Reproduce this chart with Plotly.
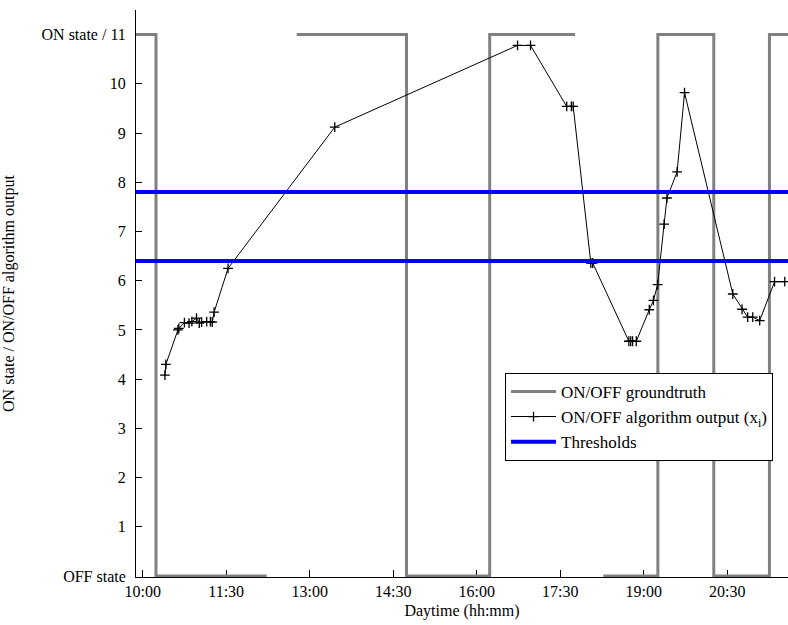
import plotly.graph_objects as go

DAY = "2000-01-01 "

# Ground truth ON/OFF state (step series; None = no data)
gt_time = ["09:50:00", "10:14:20", "10:14:20", "12:13:40", "12:30:00", "12:46:00",
           "14:44:20", "14:44:20", "16:14:00", "16:14:00", "17:46:00", "18:00:00",
           "18:16:25", "19:15:15", "19:15:15", "20:15:30", "20:15:30", "21:15:30",
           "21:15:30", "21:45:00"]
gt_state = [11, 11, 0, 0, None, 11, 11, 0, 0, 11, 11, None,
            0, 0, 11, 11, 0, 0, 11, 11]

# Algorithm output x_i
alg_time = ["10:24", "10:25", "10:38", "10:39", "10:45", "10:50", "10:53", "10:58",
            "11:01", "11:03:30", "11:09", "11:13", "11:15", "11:17", "11:32",
            "13:27", "16:44", "16:58", "17:37", "17:42", "17:44", "18:03", "18:05",
            "18:44", "18:46", "18:48", "18:52", "19:06", "19:10:30", "19:15",
            "19:22", "19:25", "19:36", "19:44", "20:36", "20:46", "20:52",
            "20:57:30", "21:05", "21:21", "21:32"]
alg_value = [4.08, 4.30, 5.00, 5.03, 5.15, 5.14, 5.17, 5.24,
             5.14, 5.16, 5.17, 5.17, 5.16, 5.36, 6.25,
             9.12, 10.78, 10.78, 9.54, 9.54, 9.54, 6.36, 6.36,
             4.77, 4.77, 4.77, 4.77, 5.41, 5.60, 5.92,
             7.15, 7.68, 8.21, 9.82, 5.73, 5.42, 5.26,
             5.26, 5.19, 5.98, 5.98]

thresholds = [7.8, 6.4]

x_range = [DAY + "09:52:48", DAY + "21:35:30"]
y_ticks = list(range(0, 12))
y_ticktext = ["OFF state"] + [str(v) for v in range(1, 11)] + ["ON state / 11"]
x_tick0 = DAY + "10:00"
x_dtick_min = 90

FONT = "Liberation Serif"

fig = go.Figure()

fig.add_trace(go.Scatter(
    x=[DAY + t for t in gt_time], y=gt_state, mode="lines",
    line=dict(color="#808080", width=3), connectgaps=False,
    name="ON/OFF groundtruth"))

fig.add_trace(go.Scatter(
    x=[DAY + t for t in alg_time], y=alg_value, mode="lines+markers",
    line=dict(color="black", width=1),
    marker=dict(symbol="cross-thin", size=7, color="black",
                line=dict(color="black", width=1.3)),
    name="ON/OFF algorithm output (x<sub>i</sub>)"))

th_x, th_y = [], []
for th in thresholds:
    th_x += [x_range[0], x_range[1], None]
    th_y += [th, th, None]
fig.add_trace(go.Scatter(
    x=th_x, y=th_y, mode="lines", line=dict(color="#0000ff", width=4),
    name="Thresholds"))

fig.update_layout(
    width=788, height=625,
    margin=dict(l=136, r=0, t=10, b=48),
    paper_bgcolor="white", plot_bgcolor="white",
    font=dict(family=FONT, size=16, color="black"),
    showlegend=True,
    legend=dict(x=0.566, y=0.36, xanchor="left", yanchor="top",
                bgcolor="white", bordercolor="black", borderwidth=1,
                font=dict(family=FONT, size=17), tracegroupgap=0,
                itemwidth=45),
)

fig.update_xaxes(
    type="date", range=x_range, tick0=x_tick0, dtick=x_dtick_min * 60 * 1000,
    tickformat="%H:%M", ticks="inside", ticklen=7, tickcolor="black",
    showline=True, linecolor="black", linewidth=1, showgrid=False,
    zeroline=False, layer="below traces",
    title=dict(text="Daytime (hh:mm)", font=dict(family=FONT, size=16), standoff=5),
    tickfont=dict(family=FONT, size=16))

fig.update_yaxes(
    range=[-0.02, 11.5], tickvals=y_ticks, ticktext=y_ticktext,
    ticks="inside", ticklen=6, tickcolor="black",
    showline=True, linecolor="black", linewidth=1, showgrid=False,
    zeroline=False, layer="below traces", ticklabelstandoff=6,
    title=dict(text="ON state / ON/OFF algorithm output", font=dict(family=FONT, size=16), standoff=26),
    tickfont=dict(family=FONT, size=16))

fig.write_html("out.html")
